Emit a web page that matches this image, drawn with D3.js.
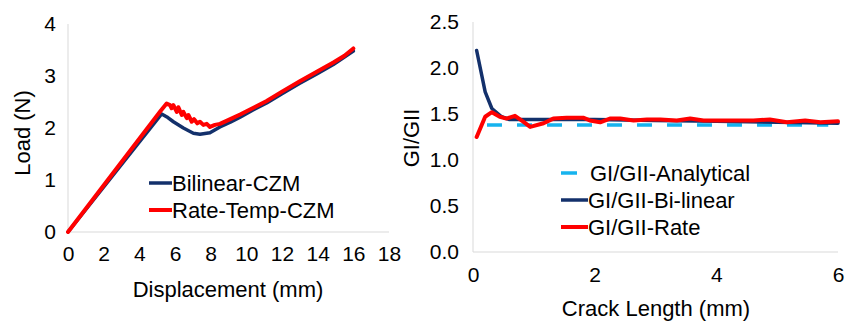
<!DOCTYPE html>
<html><head><meta charset="utf-8">
<script src="https://cdn.jsdelivr.net/npm/d3@7"></script>
<style>body{margin:0;background:#fff}svg{display:block;font-family:"Liberation Sans",Arial,sans-serif}</style>
</head><body><svg id="c" width="857" height="322"></svg>
<script>
// Left chart data: Load (N) vs Displacement (mm)
const loadXTicks = [0,2,4,6,8,10,12,14,16,18];
const loadYTicks = [0,1,2,3,4];
const bilinearCZM = [[0,0],[5.25,2.27],[5.6,2.2],[5.91,2.12],[6.47,2.0],[7.03,1.9],[7.4,1.88],[7.96,1.91],[8.52,2.02],[9.1,2.11],[9.65,2.21],[10.4,2.35],[11.14,2.48],[12,2.66],[13,2.86],[14,3.05],[14.88,3.22],[16,3.48]];
const rateTempCZM = [[0,0],[5.2,2.33],[5.53,2.47],[5.72,2.44],[5.81,2.38],[5.91,2.44],[6.1,2.31],[6.19,2.40],[6.38,2.25],[6.47,2.31],[6.66,2.19],[6.75,2.25],[6.94,2.12],[7.07,2.17],[7.25,2.09],[7.4,2.12],[7.59,2.06],[7.78,2.08],[7.96,2.02],[8.24,2.06],[8.52,2.08],[9.1,2.17],[9.65,2.26],[10.4,2.39],[11.14,2.52],[12,2.70],[13,2.90],[14,3.09],[14.88,3.26],[15.5,3.39],[16,3.53]];
// Right chart data: GI/GII vs Crack Length (mm)
const crackXTicks = [0,2,4,6];
const ratioYTicks = [0,0.5,1,1.5,2,2.5];
const analytical = [[0.23,1.38],[5.84,1.38]];
const biLinear = [[0.06,2.19],[0.2,1.74],[0.31,1.56],[0.47,1.47],[0.6,1.44],[1,1.44],[2,1.44],[3,1.43],[4,1.42],[5,1.41],[6,1.40]];
const rate = [[0.06,1.25],[0.2,1.47],[0.31,1.52],[0.44,1.47],[0.55,1.45],[0.69,1.48],[0.82,1.42],[0.94,1.36],[1.16,1.40],[1.32,1.45],[1.54,1.46],[1.81,1.46],[1.92,1.43],[2.09,1.41],[2.25,1.45],[2.42,1.45],[2.64,1.43],[2.86,1.44],[3.08,1.44],[3.35,1.43],[3.57,1.45],[3.79,1.43],[4.06,1.43],[4.34,1.43],[4.61,1.43],[4.88,1.44],[5.16,1.41],[5.46,1.43],[5.71,1.41],[6.0,1.42]];

const NAVY="#13306b", RED="#ff0000", CYAN="#16b3ee", AX="#d9d9d9";
const svg = d3.select("#c");

function panel(o){
  const g = svg.append("g");
  const x = d3.scaleLinear().domain(o.xd).range(o.xr);
  const y = d3.scaleLinear().domain(o.yd).range(o.yr);
  g.append("line").attr("x1",o.xr[0]).attr("x2",o.xr[1]).attr("y1",o.yr[0]).attr("y2",o.yr[0]).attr("stroke",AX);
  g.append("line").attr("x1",o.xr[0]).attr("x2",o.xr[0]).attr("y1",o.yr[0]).attr("y2",o.yr[1]).attr("stroke",AX);
  const xa = g.append("g").attr("transform",`translate(0,${o.yr[0]})`)
    .call(d3.axisBottom(x).tickValues(o.xt).tickSize(0).tickPadding(o.xpad).tickFormat(o.xf));
  const ya = g.append("g").attr("transform",`translate(${o.xr[0]},0)`)
    .call(d3.axisLeft(y).tickValues(o.yt).tickSize(0).tickPadding(o.ypad).tickFormat(o.yf));
  [xa,ya].forEach(a=>{a.select(".domain").remove();a.selectAll("text").attr("font-size",21).attr("fill","#000").attr("font-family","Liberation Sans, Arial, sans-serif");});
  g.append("text").attr("x",o.xtitle[0]).attr("y",o.xtitle[1]).attr("text-anchor","middle").attr("dominant-baseline","central").attr("font-size",22).text(o.xl);
  g.append("text").attr("transform",`translate(${o.ytitle[0]},${o.ytitle[1]}) rotate(-90)`).attr("text-anchor","middle").attr("dominant-baseline","central").attr("font-size",22).text(o.yl);
  const line = d3.line().x(d=>x(d[0])).y(d=>y(d[1]));
  o.series.forEach(s=>{
    g.append("path").datum(s.data).attr("d",line).attr("fill","none").attr("stroke",s.c).attr("stroke-width",s.w)
      .attr("stroke-linejoin","round").attr("stroke-linecap",s.dash?"butt":"round").attr("stroke-dasharray",s.dash||null);
  });
  o.legend.forEach((l,i)=>{
    const yy = o.leg.y + i*o.leg.dy;
    g.append("line").attr("x1",l.x1).attr("x2",l.x2).attr("y1",yy).attr("y2",yy).attr("stroke",l.c).attr("stroke-width",l.w).attr("stroke-linecap","butt");
    g.append("text").attr("x",l.tx).attr("y",yy).attr("dominant-baseline","central").attr("font-size",22).text(l.t);
  });
}

panel({xd:[0,18],xr:[68,389],yd:[0,4],yr:[232,24],xt:loadXTicks,yt:loadYTicks,xpad:14,ypad:12,
  xf:d3.format("d"),yf:d3.format("d"),xl:"Displacement (mm)",yl:"Load (N)",xtitle:[228,289],ytitle:[22,133],
  series:[{data:bilinearCZM,c:NAVY,w:3.5},{data:rateTempCZM,c:RED,w:4}],
  leg:{y:183,dy:27},
  legend:[{x1:149,x2:172,c:NAVY,w:3.5,tx:172,t:"Bilinear-CZM"},{x1:149,x2:172,c:RED,w:4,tx:172,t:"Rate-Temp-CZM"}]});

panel({xd:[0,6],xr:[473,838],yd:[0,2.5],yr:[252,22],xt:crackXTicks,yt:ratioYTicks,xpad:15,ypad:14,
  xf:d3.format("d"),yf:d3.format(".1f"),xl:"Crack Length (mm)",yl:"GI/GII",xtitle:[656,308],ytitle:[411,138],
  series:[{data:analytical,c:CYAN,w:3.5,dash:"15,15"},{data:biLinear,c:NAVY,w:3.5},{data:rate,c:RED,w:4}],
  leg:{y:173,dy:27},
  legend:[{x1:561,x2:577,c:CYAN,w:3.5,tx:590,t:"GI/GII-Analytical"},{x1:561,x2:588,c:NAVY,w:3.5,tx:588,t:"GI/GII-Bi-linear"},{x1:561,x2:588,c:RED,w:4,tx:588,t:"GI/GII-Rate"}]});
</script></body></html>
